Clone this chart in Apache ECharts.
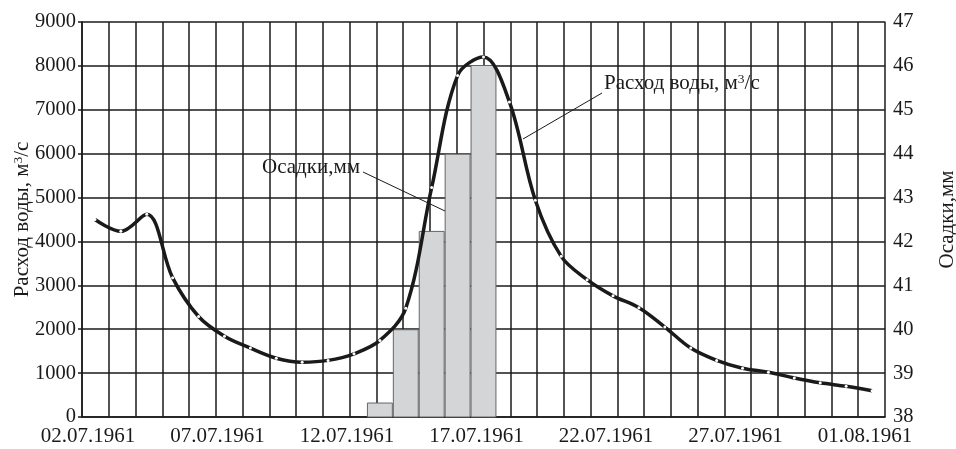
<!DOCTYPE html>
<html>
<head>
<meta charset="utf-8">
<script src="https://cdn.jsdelivr.net/npm/echarts@6/dist/echarts.min.js"></script>
<style>
html,body{margin:0;padding:0;background:#fff;}
#chart{width:956px;height:449px;}
</style>
</head>
<body>
<div id="chart"></div>
<script>
// Dates (02.07.1961 .. 01.08.1961)
var dates = ['02.07.1961','03.07.1961','04.07.1961','05.07.1961','06.07.1961','07.07.1961','08.07.1961','09.07.1961','10.07.1961','11.07.1961','12.07.1961','13.07.1961','14.07.1961','15.07.1961','16.07.1961','17.07.1961','18.07.1961','19.07.1961','20.07.1961','21.07.1961','22.07.1961','23.07.1961','24.07.1961','25.07.1961','26.07.1961','27.07.1961','28.07.1961','29.07.1961','30.07.1961','31.07.1961','01.08.1961'];
// Water discharge, m3/s
var discharge = [4500,4230,4620,3170,2290,1840,1570,1340,1250,1290,1440,1745,2480,5230,7780,8200,7180,4940,3660,3130,2760,2490,2050,1570,1290,1110,1020,890,780,700,600];
// Precipitation, mm
var precipDates = ['13.07.1961','14.07.1961','15.07.1961','16.07.1961','17.07.1961'];
var precipValues = [38.33,40.0,42.24,44.0,46.02];
// Axis ranges
var leftMin = 0, leftMax = 9000, leftStep = 1000;
var rightMin = 38, rightMax = 47, rightStep = 1;

var FONT = 'Liberation Serif';
var TXT = '#1a1a1a';
var richUnits = {
  a: {fontFamily: FONT, fontSize: 21, color: TXT, lineHeight: 23},
  s: {fontFamily: FONT, fontSize: 13.5, color: TXT, verticalAlign: 'top', lineHeight: 23, padding: [0,0,8,0]}
};

var chart = echarts.init(document.getElementById('chart'), null, {renderer: 'canvas'});
var precipData = precipDates.map(function (d, i) { return [d, precipValues[i]]; });

chart.setOption({
  animation: false,
  backgroundColor: '#fff',
  grid: {left: 82, right: 71, top: 22, bottom: 32, containLabel: false, outerBoundsMode: 'none'},
  xAxis: [
    {
      type: 'category', data: dates, boundaryGap: true, position: 'bottom',
      axisLine: {show: true, lineStyle: {color: '#1a1a1a', width: 1.5}},
      axisTick: {show: false},
      axisLabel: {interval: 4, fontFamily: FONT, fontSize: 21, color: TXT, margin: 9, padding: [0, 14, 0, 0]},
      splitLine: {show: false}
    },
    {
      type: 'value', min: 0, max: 30, interval: 1, position: 'bottom',
      axisLine: {show: false}, axisTick: {show: false}, axisLabel: {show: false},
      splitLine: {show: true, lineStyle: {color: '#1a1a1a', width: 1.5}}
    }
  ],
  yAxis: [
    {
      type: 'value', min: leftMin, max: leftMax, interval: leftStep, position: 'left',
      name: '{a|Расход воды, м}{s|3}{a|/с}', nameLocation: 'middle', nameRotate: 90, nameGap: 48,
      nameMoveOverlap: false,
      nameTextStyle: {rich: richUnits},
      axisLine: {show: true, lineStyle: {color: '#1a1a1a', width: 1.5}},
      axisTick: {show: true, length: 4, lineStyle: {color: '#1a1a1a', width: 1.5}},
      axisLabel: {fontFamily: FONT, fontSize: 20.5, color: TXT, margin: 6, formatter: function (v) { return String(v); }},
      splitLine: {show: true, lineStyle: {color: '#1a1a1a', width: 1.5}}
    },
    {
      type: 'value', min: rightMin, max: rightMax, interval: rightStep, position: 'right',
      name: 'Осадки,мм', nameLocation: 'middle', nameRotate: 90, nameGap: 52,
      nameMoveOverlap: false,
      nameTextStyle: {fontFamily: FONT, fontSize: 21, color: TXT},
      axisLine: {show: true, lineStyle: {color: '#555', width: 1}},
      axisTick: {show: false},
      axisLabel: {fontFamily: FONT, fontSize: 20.5, color: TXT, margin: 8, formatter: function (v) { return String(v); }},
      splitLine: {show: false}
    }
  ],
  series: [
    {
      name: 'Осадки,мм', type: 'bar', xAxisIndex: 0, yAxisIndex: 1,
      data: precipData, barWidth: '100%', barGap: '-100%',
      itemStyle: {color: '#d4d5d7', borderColor: '#666', borderWidth: 1},
      z: 3
    },
    {
      name: 'Расход воды, м3/с', type: 'line', xAxisIndex: 0, yAxisIndex: 0,
      data: discharge, smooth: 0.35,
      lineStyle: {color: '#1a1a1a', width: 3.5},
      symbol: 'circle', symbolSize: 3, showSymbol: true,
      itemStyle: {color: '#ffffff', borderWidth: 0},
      z: 5
    }
  ],
  graphic: [
    {type: 'line', shape: {x1: 363, y1: 172, x2: 445, y2: 211}, style: {stroke: '#1a1a1a', lineWidth: 1}, z: 10},
    {type: 'text', left: 262, top: 157, style: {text: 'Осадки,мм', fontFamily: FONT, fontSize: 21, fill: TXT}, z: 10},
    {type: 'line', shape: {x1: 602, y1: 93, x2: 523, y2: 139}, style: {stroke: '#1a1a1a', lineWidth: 1}, z: 10},
    {type: 'text', left: 604, top: 72, style: {text: '{a|Расход воды, м}{s|3}{a|/с}', rich: richUnits, fill: TXT}, z: 10}
  ]
});
</script>
</body>
</html>
